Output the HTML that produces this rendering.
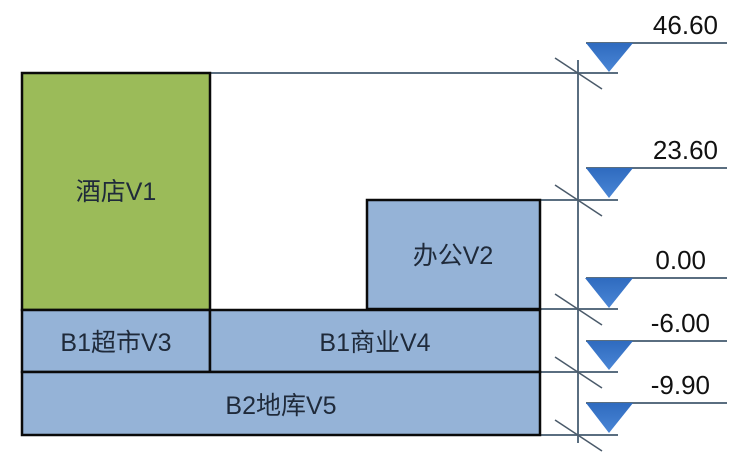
<!DOCTYPE html>
<html><head><meta charset="utf-8"><style>
html,body{margin:0;padding:0;background:#fff;}
svg{display:block;}
text{font-family:"Liberation Sans","Noto Sans CJK SC",sans-serif;}
</style></head><body>
<svg width="736" height="454" viewBox="0 0 736 454" xmlns="http://www.w3.org/2000/svg">
<defs>
<linearGradient id="tg" x1="0" y1="0" x2="0" y2="1">
<stop offset="0" stop-color="#2f6bbf"/><stop offset="1" stop-color="#4a86d6"/>
</linearGradient>
</defs>
<g stroke="#5a6e80" stroke-width="2" fill="none">
<line x1="211" y1="73" x2="618" y2="73"/>
<line x1="540" y1="200" x2="618" y2="200"/>
<line x1="540" y1="309" x2="618" y2="309"/>
<line x1="540" y1="372" x2="618" y2="372"/>
<line x1="540" y1="435" x2="618" y2="435"/>
<line x1="578" y1="60" x2="578" y2="443"/>
<line x1="586" y1="43" x2="727" y2="43"/>
<line x1="586" y1="168" x2="727" y2="168"/>
<line x1="586" y1="278" x2="727" y2="278"/>
<line x1="586" y1="341" x2="727" y2="341"/>
<line x1="586" y1="403" x2="727" y2="403"/>
</g>
<g stroke="#4a5a6a" stroke-width="1.5">
<line x1="555" y1="58" x2="602" y2="89"/>
<line x1="555" y1="185" x2="602" y2="216"/>
<line x1="555" y1="294" x2="602" y2="325"/>
<line x1="555" y1="357" x2="602" y2="388"/>
<line x1="555" y1="420" x2="602" y2="451"/>
</g>
<g fill="url(#tg)">
<polygon points="586,43 633,43 609,72"/>
<polygon points="586,168 633,168 609,198"/>
<polygon points="585,278 633,278 609,308"/>
<polygon points="586,341 633,341 609,370"/>
<polygon points="586,403 633,403 609,433"/>
</g>
<g font-size="26" fill="#111" text-anchor="end">
<text x="718" y="34">46.60</text>
<text x="718" y="159">23.60</text>
<text x="706" y="269">0.00</text>
<text x="710" y="332">-6.00</text>
<text x="710" y="394">-9.90</text>
</g>
<g stroke="#0a0a0a" stroke-width="2.5">
<rect x="22" y="73" width="188" height="237" fill="#9bbb59"/>
<rect x="367" y="200" width="173" height="109" fill="#95b3d7"/>
<rect x="22" y="310" width="188" height="62" fill="#95b3d7"/>
<rect x="210" y="310" width="330" height="62" fill="#95b3d7"/>
<rect x="22" y="372" width="518" height="63" fill="#95b3d7"/>
</g>
<g font-size="25" fill="#1f2a3a" text-anchor="middle">
<text x="116" y="200">酒店V1</text>
<text x="453" y="264">办公V2</text>
<text x="116" y="351">B1超市V3</text>
<text x="375" y="351">B1商业V4</text>
<text x="281" y="414">B2地库V5</text>
</g>
</svg>
</body></html>
